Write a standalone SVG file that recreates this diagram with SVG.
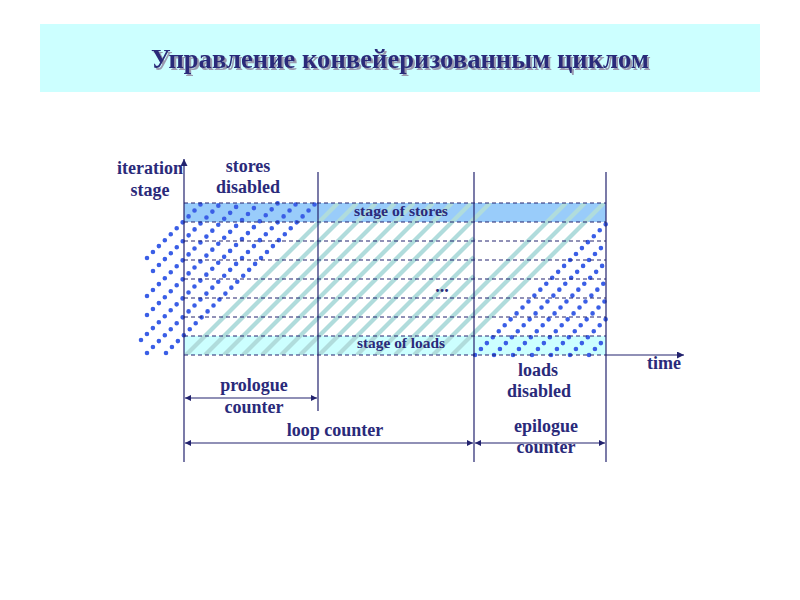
<svg xmlns="http://www.w3.org/2000/svg" width="800" height="600" viewBox="0 0 800 600">
<style>
.t{font-family:"Liberation Serif","Times New Roman",serif;font-weight:bold;fill:#2a2a7a;text-anchor:middle}
.l{font-size:18px}
.s{font-size:14px}
.ax{stroke:#22226e;stroke-width:1.2;fill:none}
.dash{stroke:#22226e;stroke-width:1;stroke-dasharray:4 3;fill:none}
.hat{stroke:#b0dcdc;stroke-width:4.2;fill:none}
.dot{stroke:#3a5ee6;stroke-width:4.6;stroke-linecap:round;stroke-dasharray:0 8.4;fill:none}
</style>
<defs>
<marker id="ah" viewBox="0 0 10 10" refX="10" refY="5" markerWidth="9" markerHeight="7" markerUnits="userSpaceOnUse" orient="auto-start-reverse"><path d="M0,0 L10,5 L0,10 z" fill="#22226e"/></marker>
<marker id="sh" viewBox="0 0 10 10" refX="10" refY="5" markerWidth="8" markerHeight="6" markerUnits="userSpaceOnUse" orient="auto-start-reverse"><path d="M0,0 L10,5 L0,10 z" fill="#22226e"/></marker>
<clipPath id="box"><rect x="184" y="203" width="422" height="152"/></clipPath>
<filter id="shadow" x="-5%" y="-30%" width="110%" height="160%">
<feOffset in="SourceAlpha" dx="2" dy="2" result="o"/>
<feFlood flood-color="#9a9ab0"/>
<feComposite in2="o" operator="in" result="s"/>
<feMerge><feMergeNode in="s"/><feMergeNode in="SourceGraphic"/></feMerge>
</filter>
</defs>
<rect width="800" height="600" fill="#ffffff"/>
<g id="title">
<rect x="40" y="24" width="720" height="68" fill="#ccffff"/>
<text x="400" y="68" class="t" font-size="27" textLength="498" lengthAdjust="spacingAndGlyphs" filter="url(#shadow)">Управление конвейеризованным циклом</text>
</g>
<g id="bands">
<rect x="184" y="203" width="422" height="19" fill="#99ccfa"/>
<rect x="184" y="336" width="422" height="19" fill="#ccffff"/>
</g>
<g id="hatch" clip-path="url(#box)">
<line class="hat" x1="186" y1="355" x2="338" y2="203"/>
<line class="hat" x1="205" y1="355" x2="357" y2="203"/>
<line class="hat" x1="224" y1="355" x2="376" y2="203"/>
<line class="hat" x1="243" y1="355" x2="395" y2="203"/>
<line class="hat" x1="262" y1="355" x2="414" y2="203"/>
<line class="hat" x1="281" y1="355" x2="433" y2="203"/>
<line class="hat" x1="300" y1="355" x2="452" y2="203"/>
<line class="hat" x1="319" y1="355" x2="471" y2="203"/>
<line class="hat" x1="338" y1="355" x2="490" y2="203"/>
<line class="hat" x1="357" y1="355" x2="474" y2="238"/>
<line class="hat" x1="376" y1="355" x2="474" y2="257"/>
<line class="hat" x1="395" y1="355" x2="474" y2="276"/>
<line class="hat" x1="414" y1="355" x2="566" y2="203"/>
<line class="hat" x1="433" y1="355" x2="585" y2="203"/>
<line class="hat" x1="452" y1="355" x2="604" y2="203"/>
</g>
<g id="dots">
<line class="dot" x1="147" y1="258" x2="202" y2="203"/>
<line class="dot" x1="153" y1="271" x2="221" y2="203"/>
<line class="dot" x1="147" y1="296" x2="240" y2="203"/>
<line class="dot" x1="147" y1="315" x2="259" y2="203"/>
<line class="dot" x1="141" y1="340" x2="278" y2="203"/>
<line class="dot" x1="147" y1="353" x2="297" y2="203"/>
<line class="dot" x1="166" y1="353" x2="316" y2="203"/>
<line class="dot" x1="475" y1="355" x2="606" y2="224"/>
<line class="dot" x1="494" y1="355" x2="606" y2="243"/>
<line class="dot" x1="513" y1="355" x2="606" y2="262"/>
<line class="dot" x1="532" y1="355" x2="606" y2="281"/>
<line class="dot" x1="551" y1="355" x2="606" y2="300"/>
<line class="dot" x1="570" y1="355" x2="606" y2="319"/>
<line class="dot" x1="589" y1="355" x2="606" y2="338"/>
</g>
<g id="grid">
<line class="dash" x1="184" y1="203" x2="606" y2="203"/>
<line class="dash" x1="184" y1="222" x2="606" y2="222"/>
<line class="dash" x1="184" y1="241" x2="606" y2="241"/>
<line class="dash" x1="184" y1="260" x2="606" y2="260"/>
<line class="dash" x1="184" y1="279" x2="606" y2="279"/>
<line class="dash" x1="184" y1="298" x2="606" y2="298"/>
<line class="dash" x1="184" y1="317" x2="606" y2="317"/>
<line class="dash" x1="184" y1="336" x2="606" y2="336"/>
<line class="dash" x1="184" y1="355" x2="606" y2="355"/>
</g>
<g id="connectors">
<line class="ax" x1="184" y1="462" x2="184" y2="159" marker-end="url(#ah)"/>
<line class="ax" x1="606" y1="355" x2="684" y2="355" marker-end="url(#ah)"/>
<line class="ax" x1="318" y1="172" x2="318" y2="411"/>
<line class="ax" x1="474" y1="172" x2="474" y2="462"/>
<line class="ax" x1="606" y1="172" x2="606" y2="462"/>
<line class="ax" x1="185" y1="398" x2="317" y2="398" marker-start="url(#sh)" marker-end="url(#sh)"/>
<line class="ax" x1="185" y1="443" x2="473" y2="443" marker-start="url(#sh)" marker-end="url(#sh)"/>
<line class="ax" x1="475" y1="443" x2="605" y2="443" marker-start="url(#sh)" marker-end="url(#sh)"/>
</g>
<g id="labels">
<text class="t l" x="150" y="174">iteration</text>
<text class="t l" x="150" y="196">stage</text>
<text class="t l" x="248" y="172">stores</text>
<text class="t l" x="248" y="193">disabled</text>
<text class="t s" x="401" y="216" textLength="94" lengthAdjust="spacingAndGlyphs">stage of stores</text>
<text class="t s" x="401" y="348" textLength="88" lengthAdjust="spacingAndGlyphs">stage of loads</text>
<text class="t l" x="442" y="292">...</text>
<text class="t l" x="664" y="369">time</text>
<text class="t l" x="538" y="376">loads</text>
<text class="t l" x="539" y="397">disabled</text>
<text class="t l" x="254" y="391">prologue</text>
<text class="t l" x="254" y="413">counter</text>
<text class="t l" x="335" y="436">loop counter</text>
<text class="t l" x="546" y="432">epilogue</text>
<text class="t l" x="546" y="453">counter</text>
</g>
</svg>
